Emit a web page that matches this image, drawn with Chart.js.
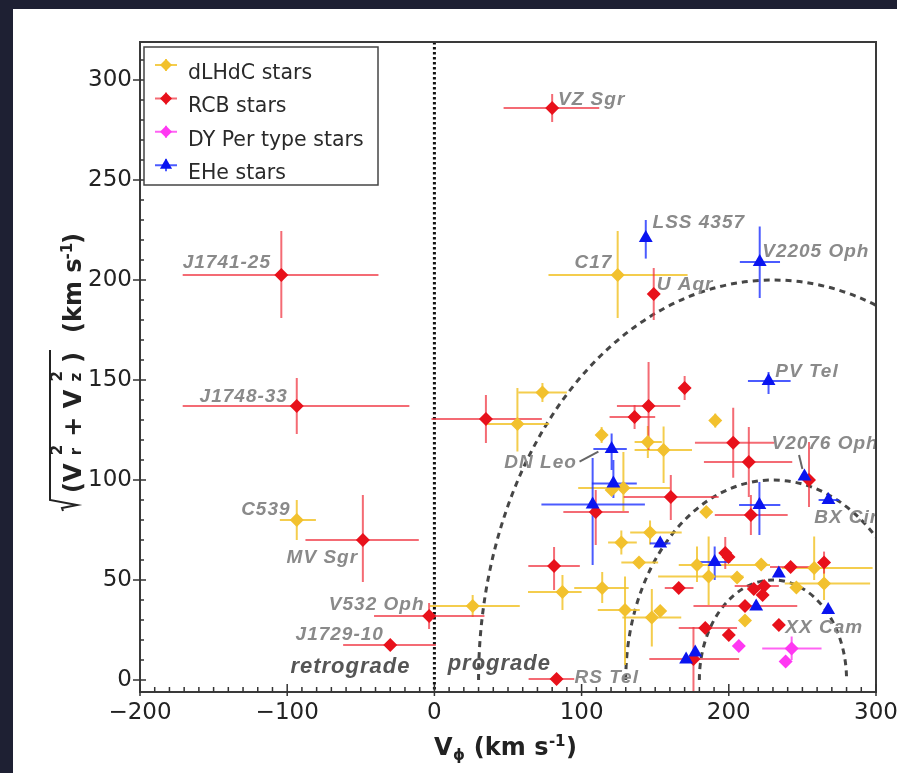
<!DOCTYPE html>
<html>
<head>
<meta charset="utf-8">
<script src="https://cdn.jsdelivr.net/npm/chart.js@4.4.1/dist/chart.umd.min.js"></script>
<style>
  html, body { margin: 0; padding: 0; background: #1e2033; width: 897px; height: 773px; overflow: hidden; }
  #panel { position: absolute; left: 13px; top: 9px; right: 0; bottom: 0; background: #fff; }
  #plot { position: absolute; left: 0; top: 0; }
</style>
</head>
<body>
<div id="panel"></div>
<canvas id="plot" width="897" height="773"></canvas>
<script>
// each row: V_phi, sqrt(Vr^2 + Vz^2), -dVphi, +dVphi, -dV, +dV   (km/s)
const dlhdcStars = [
    [124.5, 202.5, 47, 47.5, 21.5, 22],   // C17
    [-93.5, 80, 11.5, 13, 10, 10],        // C539
    [26, 37, 29, 32, 5.5, 5.5],
    [73.4, 143.7, 16.4, 16.6, 4.7, 4.8],
    [56.4, 128, 21.4, 21.6, 13.7, 18],
    [113.6, 122.5, 0, 0, 4, 4],
    [145, 119, 9, 9.5, 8, 8],
    [155.7, 115, 19.7, 19.3, 16.5, 11.7],
    [190.8, 129.7, 0, 0, 3.5, 3.5],
    [128.4, 96, 30.7, 31.6, 11.5, 18],
    [120.4, 95, 0, 0, 0, 0],
    [184.7, 84, 0, 0, 0, 0],
    [146.5, 73.7, 13.5, 21.5, 6, 6],
    [127, 68.7, 9, 10.5, 6, 6],
    [139, 58.7, 12, 13, 0, 0],
    [87, 44, 23.4, 13, 9, 8.5],
    [114, 46, 19, 18, 7.5, 8],
    [129.5, 35, 18.5, 10, 27.5, 16.7],
    [147.7, 31.3, 20, 20, 14.6, 14.2],
    [153.4, 34.5, 0, 0, 0, 0],
    [178.4, 57.5, 12.4, 49.6, 8.5, 9.2],
    [186.3, 51.7, 34.3, 23.7, 14.2, 20],
    [205.6, 51.3, 0, 0, 0, 0],
    [222, 57.8, 0, 0, 0, 0],
    [245.9, 46.3, 0, 0, 0, 0],
    [258, 56, 22, 39.7, 6, 15.7],
    [264.7, 48.3, 26.7, 31.3, 8.3, 10.2],
    [211, 29.7, 0, 0, 0, 0]
];

const rcbStars = [
    [80, 286, 33, 32, 7, 7],              // VZ Sgr
    [-104, 202.5, 67, 66, 21.5, 22],      // J1741-25
    [-93.5, 137, 77.5, 76.5, 14, 14],     // J1748-33
    [-48.6, 70, 39, 38, 21, 22.5],        // MV Sgr
    [-3.6, 32, 37.4, 37.6, 6.5, 6.5],     // V532 Oph
    [-30, 17.5, 32, 31, 0, 0],            // J1729-10
    [83, 0.5, 19, 12, 0, 0],              // RS Tel
    [149, 193, 0, 0, 13, 13],             // U Aqr
    [35, 130.5, 37, 38, 12, 12],
    [170, 146, 0, 0, 6, 6],
    [145.5, 137, 21.5, 21.5, 22, 22],
    [136, 131.5, 17, 14, 6, 6],
    [203, 118.6, 26, 28, 17.5, 17.5],
    [213.6, 109, 30.5, 29.5, 17.5, 17.5],
    [160.6, 91.5, 32, 32.5, 11.5, 11],
    [109.6, 84, 22, 22.5, 16.5, 11],
    [215, 82.5, 24.5, 25, 10, 10],
    [81.3, 57, 17.5, 17.5, 12, 9.5],
    [197.6, 63.5, 0, 0, 8, 8],
    [199.8, 61.5, 0, 0, 0, 0],
    [242, 56.5, 14, 13, 0, 0],
    [264.7, 58.7, 0, 0, 5.5, 5.5],
    [166, 46, 9.5, 10, 0, 0],
    [217, 45.5, 0, 0, 0, 0],
    [224, 47, 20, 10, 0, 0],
    [223, 42.5, 0, 0, 0, 0],
    [211, 37, 35, 35.5, 0, 0],
    [184, 26, 18, 21.6, 0, 0],
    [200, 22.5, 0, 0, 0, 0],
    [234, 27.5, 0, 0, 0, 0],              // XX Cam
    [176, 10.5, 30, 31, 16, 16],
    [254.5, 100, 0, 0, 13.5, 19]
];

const dyPerStars = [
    [206.8, 17, 0, 0, 0, 0],
    [242.7, 15.8, 20, 20.3, 5.8, 5.9],
    [238.6, 9.2, 0, 0, 0, 0]
];

const eheStars = [
    [143.6, 221, 0, 0, 10.3, 9],          // LSS 4357
    [221, 209, 13.5, 13.8, 18, 17.7],     // V2205 Oph
    [227, 149.5, 14, 15, 6.5, 4.5],       // PV Tel
    [120.4, 115.5, 12.4, 10.3, 10.5, 7.8],// DN Leo
    [121.6, 98.3, 14.6, 15.9, 7.3, 11.7],
    [107.5, 87.8, 34.8, 35.5, 30.3, 23.2],
    [153.4, 68.3, 7, 7, 0, 0],
    [190.4, 59, 11, 10.6, 9, 7.7],
    [234, 53.3, 0, 0, 0, 0],
    [218.6, 36.7, 0, 0, 0, 0],
    [267.5, 35, 0, 0, 0, 0],
    [171, 10.3, 0, 0, 0, 0],
    [177.2, 13.7, 0, 0, 0, 0],
    [267.7, 90, 6.7, 7.3, 0, 0],          // BX Cir
    [251.4, 101.7, 0, 0, 0, 0],           // V2076 Oph
    [220.8, 87.5, 13.8, 14.2, 15, 11.5]
];

// name, V_phi, V at the text baseline
const starNames = [
    ['VZ Sgr', 84, 287.5], ['J1741-25', -171, 206], ['J1748-33', -159.5, 139],
    ['C539', -131.3, 82.5], ['MV Sgr', -100.4, 58.5], ['V532 Oph', -71.7, 35],
    ['J1729-10', -94.3, 20], ['RS Tel', 95.2, -1.7], ['C17', 95.2, 206],
    ['U Aqr', 151, 195], ['LSS 4357', 148.2, 225.8], ['V2205 Oph', 222.7, 211.7],
    ['PV Tel', 231.6, 151.7], ['V2076 Oph', 229, 115.3], ['DN Leo', 47.5, 105.8],
    ['BX Cir', 258, 78.3], ['XX Cam', 238.4, 23.3]
];
const regimeNames = [['retrograde', -97.8, 3.5], ['prograde', 9, 5]];
// pointer lines from a name to its star: x1, y1, x2, y2
const leaderLines = [[98.6, 109.2, 111.4, 114.2], [247.7, 112.5, 250, 105.5]];

const xTicks = [-200, -100, 0, 100, 200, 300];
const yTicks = [0, 50, 100, 150, 200, 250, 300];

// dashed circles of constant |V - V_LSR|
const circleCentre = 230;
const circleRadii = [50, 100, 200];

const TEXT = '#222';

function series(label, rows, color, errColor, pointStyle, radius, order) {
    return {
        label, order, pointStyle, errColor,
        data: rows.map(r => ({ x: r[0], y: r[1], xm: r[2], xp: r[3], ym: r[4], yp: r[5] })),
        backgroundColor: color,
        borderWidth: 0,
        pointRadius: radius,
        showLine: false
    };
}

function fmtTick(v) {
    return v < 0 ? '\u2212' + Math.abs(v) : String(v);
}

// pieces: {t, kind} with kind 'n', 'sub' or 'sup', or a [sub, sup] pair stacked
function drawRich(ctx, pieces, x0, length, big, small) {
    const widths = pieces.map(p => {
        if (Array.isArray(p)) {
            ctx.font = small;
            return Math.max(ctx.measureText(p[0]).width, ctx.measureText(p[1]).width);
        }
        ctx.font = p.kind === 'n' ? big : small;
        return ctx.measureText(p.t).width;
    });
    const natural = widths.reduce((a, b) => a + b, 0);
    const gap = pieces.length > 1 ? (length - natural) / (pieces.length - 1) : 0;
    let u = x0;
    pieces.forEach((p, i) => {
        if (Array.isArray(p)) {
            ctx.font = small;
            ctx.fillText(p[0], u, 0);
            ctx.fillText(p[1], u, -19);
        } else {
            ctx.font = p.kind === 'n' ? big : small;
            ctx.fillText(p.t, u, p.kind === 'sup' ? -9 : (p.kind === 'sub' ? 5 : 0));
        }
        u += widths[i] + gap;
    });
}

const decor = {
    id: 'decor',
    beforeDatasetsDraw(chart) {
        const { ctx, chartArea: a, scales: { x, y } } = chart;
        ctx.save();
        ctx.beginPath();
        ctx.rect(a.left, a.top, a.right - a.left, a.bottom - a.top);
        ctx.clip();

        // constant-velocity circles
        ctx.strokeStyle = '#464646';
        ctx.lineWidth = 3;
        ctx.setLineDash([6, 5]);
        const cx = x.getPixelForValue(circleCentre);
        const cy = y.getPixelForValue(0);
        circleRadii.forEach(r => {
            const rx = x.getPixelForValue(circleCentre + r) - cx;
            const ry = cy - y.getPixelForValue(r);
            ctx.beginPath();
            ctx.ellipse(cx, cy, rx, ry, 0, Math.PI, 2 * Math.PI);
            ctx.stroke();
        });

        // retrograde / prograde divide
        ctx.strokeStyle = '#111';
        ctx.lineWidth = 3;
        ctx.setLineDash([2.5, 2.5]);
        const x0 = x.getPixelForValue(0);
        ctx.beginPath();
        ctx.moveTo(x0, a.top);
        ctx.lineTo(x0, a.bottom);
        ctx.stroke();
        ctx.setLineDash([]);

        // error bars, back to front like the markers
        ctx.lineWidth = 2;
        chart.data.datasets.slice().sort((p, q) => q.order - p.order).forEach(ds => {
            ctx.strokeStyle = ds.errColor;
            ds.data.forEach(p => {
                const px = x.getPixelForValue(p.x);
                const py = y.getPixelForValue(p.y);
                ctx.beginPath();
                if (p.xm || p.xp) {
                    ctx.moveTo(x.getPixelForValue(p.x - p.xm), py);
                    ctx.lineTo(x.getPixelForValue(p.x + p.xp), py);
                }
                if (p.ym || p.yp) {
                    ctx.moveTo(px, y.getPixelForValue(p.y - p.ym));
                    ctx.lineTo(px, y.getPixelForValue(p.y + p.yp));
                }
                ctx.stroke();
            });
        });
        ctx.restore();
    },

    afterDatasetsDraw(chart) {
        const { ctx, chartArea: a, scales: { x, y } } = chart;
        ctx.save();
        ctx.beginPath();
        ctx.rect(a.left, a.top, a.right - a.left, a.bottom - a.top);
        ctx.clip();

        // star names
        ctx.font = 'italic bold 19px "Liberation Sans"';
        ctx.letterSpacing = '1px';
        ctx.fillStyle = '#8a8a8a';
        ctx.textBaseline = 'alphabetic';
        ctx.textAlign = 'left';
        starNames.forEach(([t, vx, vy]) => ctx.fillText(t, x.getPixelForValue(vx), y.getPixelForValue(vy)));

        ctx.strokeStyle = '#666';
        ctx.lineWidth = 2;
        leaderLines.forEach(([x1, y1, x2, y2]) => {
            ctx.beginPath();
            ctx.moveTo(x.getPixelForValue(x1), y.getPixelForValue(y1));
            ctx.lineTo(x.getPixelForValue(x2), y.getPixelForValue(y2));
            ctx.stroke();
        });

        ctx.font = 'italic bold 22px "Liberation Sans"';
        ctx.letterSpacing = '1px';
        ctx.fillStyle = '#555';
        regimeNames.forEach(([t, vx, vy]) => ctx.fillText(t, x.getPixelForValue(vx), y.getPixelForValue(vy)));
        ctx.letterSpacing = '0px';
        ctx.restore();

        // frame and inward ticks
        ctx.save();
        ctx.strokeStyle = '#3a3a3a';
        ctx.lineWidth = 2;
        ctx.strokeRect(a.left, a.top, a.right - a.left, a.bottom - a.top);
        ctx.lineWidth = 1.5;
        ctx.strokeStyle = '#333';
        ctx.beginPath();
        for (let v = x.min; v <= x.max; v += 10) {
            const px = x.getPixelForValue(v);
            const major = v % 100 === 0;
            ctx.moveTo(px, a.bottom + (major ? 4 : 0));
            ctx.lineTo(px, a.bottom - (major ? 8 : 5));
        }
        for (let v = 0; v <= y.max; v += 10) {
            const py = y.getPixelForValue(v);
            const major = v % 50 === 0;
            ctx.moveTo(a.left - (major ? 7 : 0), py);
            ctx.lineTo(a.left + (major ? 6 : 4), py);
        }
        ctx.stroke();
        ctx.restore();
    },

    afterDraw(chart) {
        const { ctx } = chart;
        ctx.save();

        // legend box
        ctx.fillStyle = '#fff';
        ctx.fillRect(144, 47, 234, 138);
        ctx.strokeStyle = '#444';
        ctx.lineWidth = 1.5;
        ctx.strokeRect(144, 47, 234, 138);
        chart.data.datasets.forEach((ds, i) => {
            const my = 65 + i * 33.4;
            ctx.strokeStyle = ds.errColor;
            ctx.lineWidth = 2;
            ctx.beginPath();
            ctx.moveTo(155, my); ctx.lineTo(177, my);
            ctx.moveTo(166, my - 6); ctx.lineTo(166, my + 6);
            ctx.stroke();
            ctx.fillStyle = ds.backgroundColor;
            Chart.helpers.drawPoint(ctx, { pointStyle: ds.pointStyle, radius: ds.pointStyle === 'triangle' ? 7 : 6, borderWidth: 0, rotation: 0 }, 166, my);
            ctx.fillStyle = '#2a2a2a';
            ctx.font = '20.5px "DejaVu Sans"';
            ctx.textBaseline = 'alphabetic';
            ctx.textAlign = 'left';
            ctx.fillText(ds.label, 188, 79 + i * 33.4);
        });

        // axis titles
        ctx.fillStyle = TEXT;
        ctx.textAlign = 'left';
        ctx.textBaseline = 'alphabetic';
        const big = 'bold 24px "DejaVu Sans"';
        const small = 'bold 15px "DejaVu Sans"';

        ctx.save();
        ctx.translate(0, 755);
        drawRich(ctx, [
            { t: 'V', kind: 'n' }, { t: '\u03d5', kind: 'sub' },
            { t: ' (km s', kind: 'n' }, { t: '-1', kind: 'sup' }, { t: ')', kind: 'n' }
        ], 434, 143, big, small);
        ctx.restore();

        ctx.save();
        ctx.translate(81, 513);
        ctx.rotate(-Math.PI / 2);
        ctx.strokeStyle = TEXT;
        ctx.lineWidth = 2;
        ctx.beginPath();
        ctx.moveTo(2, -18);
        ctx.lineTo(5, -19);
        ctx.lineTo(8, -4);
        ctx.lineTo(13, -31);
        ctx.lineTo(163, -31);
        ctx.stroke();
        drawRich(ctx, [
            { t: '(V', kind: 'n' }, ['r', '2'], { t: '+', kind: 'n' },
            { t: 'V', kind: 'n' }, ['z', '2'], { t: ')', kind: 'n' }
        ], 20, 141, big, small);
        drawRich(ctx, [
            { t: '(km s', kind: 'n' }, { t: '-1', kind: 'sup' }, { t: ')', kind: 'n' }
        ], 180, 100, big, small);
        ctx.restore();

        ctx.restore();
    }
};

const tickFont = { family: 'DejaVu Sans', size: 23 };

new Chart(document.getElementById('plot'), {
    type: 'scatter',
    data: {
        datasets: [
            series('dLHdC stars', dlhdcStars, '#f2c12e', 'rgba(242,196,46,0.85)', 'rectRot', 7, 3),
            series('RCB stars', rcbStars, '#e8111b', 'rgba(240,50,62,0.72)', 'rectRot', 7, 2),
            series('DY Per type stars', dyPerStars, '#ff38f2', 'rgba(255,60,240,0.8)', 'rectRot', 7, 1),
            series('EHe stars', eheStars, '#0a14f0', 'rgba(30,50,255,0.8)', 'triangle', 8, 0)
        ]
    },
    options: {
        responsive: false,
        animation: false,
        events: [],
        layout: { padding: { top: 42, right: 21, left: 0, bottom: 0 } },
        plugins: {
            legend: { display: false },
            tooltip: { enabled: false }
        },
        scales: {
            x: {
                type: 'linear',
                min: -200,
                max: 300,
                afterBuildTicks: s => { s.ticks = xTicks.map(v => ({ value: v })); },
                afterFit: s => { s.height = 81; s.paddingLeft = 0; s.paddingRight = 0; },
                grid: { display: false, drawTicks: false },
                border: { display: false },
                ticks: { font: tickFont, color: TEXT, padding: 7, maxRotation: 0, callback: fmtTick }
            },
            y: {
                type: 'linear',
                min: -6,
                max: 319,
                afterBuildTicks: s => { s.ticks = yTicks.map(v => ({ value: v })); },
                afterFit: s => { s.width = 140; s.paddingTop = 0; s.paddingBottom = 0; },
                grid: { display: false, drawTicks: false },
                border: { display: false },
                ticks: { font: tickFont, color: TEXT, padding: 8, callback: fmtTick }
            }
        }
    },
    plugins: [decor]
});
</script>
</body>
</html>
